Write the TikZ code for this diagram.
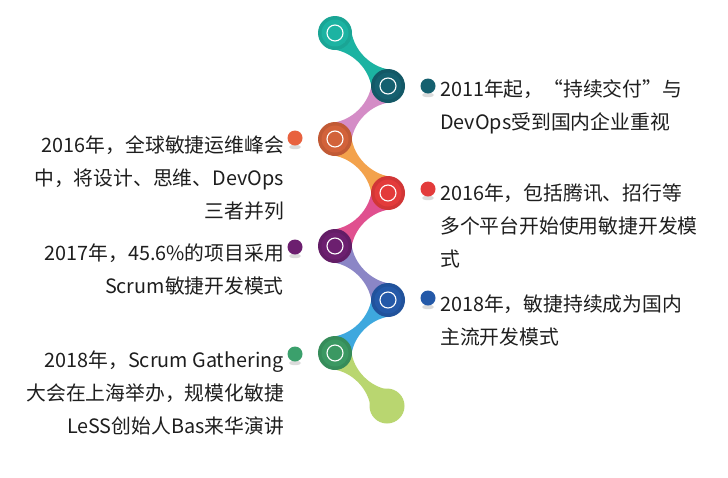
\documentclass[tikz,border=0pt]{standalone}
\usepackage{fontspec}
\setmainfont{Noto Sans CJK SC}
\usetikzlibrary{calc,backgrounds}
\definecolor{cteal}{HTML}{1CB3A2}
\definecolor{cdteal}{HTML}{15606F}
\definecolor{corange}{HTML}{D2623A}
\definecolor{cred}{HTML}{E33B3B}
\definecolor{cpurple}{HTML}{6C1F6F}
\definecolor{cblue}{HTML}{2459A8}
\definecolor{cgreen}{HTML}{3B9862}
\definecolor{clime}{HTML}{B9D670}
\definecolor{slilac}{HTML}{D48CC6}
\definecolor{sorange}{HTML}{F3A24C}
\definecolor{spink}{HTML}{E0508F}
\definecolor{slav}{HTML}{8B86C6}
\definecolor{sblue}{HTML}{3EA8DE}
\definecolor{dorange}{HTML}{E8623F}
\definecolor{dgreen}{HTML}{3BA06C}
\definecolor{txtc}{HTML}{1E1E1E}
\tikzset{
  ball/.style={circle, inner sep=0pt, minimum size=34pt, fill=#1!92!black},
  dotnode/.style={circle, inner sep=0pt, minimum size=15pt, fill=#1},
  txt/.style={font=\fontsize{19.8}{33}\selectfont, inner sep=0pt, text=txtc},
}
\newcommand\stemshape[4]{%
  \fill[#4] ($(#1)+(#3+52:16.5)$) .. controls ($(#1)!0.5!(#2)+(#3+90:1)+(#3:-12)$) and ($(#1)!0.5!(#2)+(#3+90:1)+(#3:12)$) .. ($(#2)+(#3+128:16.5)$) -- ($(#2)+(#3-128:16.5)$) .. controls ($(#1)!0.5!(#2)+(#3-90:1)+(#3:12)$) and ($(#1)!0.5!(#2)+(#3-90:1)+(#3:-12)$) .. ($(#1)+(#3-52:16.5)$) -- cycle;}
\newcommand\ballinner[2]{%
  \fill[#2] (#1) circle (13.5);
  \draw[white, line width=1.1pt] (#1) circle (8);}
\newcommand\dotshadow[1]{\fill[black!14] ($(#1)+(0,-9)$) ellipse (6 and 2.2);}
\begin{document}
\begin{tikzpicture}[x=1pt,y=1pt]
\useasboundingbox (0,0) rectangle (728,-477);
% circles
\node[ball=cteal] (c1) at (335,-33) {};
\node[ball=cdteal] (c2) at (388,-86) {};
\node[ball=corange] (c3) at (335,-139) {};
\node[ball=cred] (c4) at (388,-193) {};
\node[ball=cpurple] (c5) at (335,-246) {};
\node[ball=cblue] (c6) at (388,-300) {};
\node[ball=cgreen] (c7) at (335,-353) {};
\node[circle, inner sep=0pt, minimum size=35pt, fill=clime] (c8) at (387,-406) {};
\ballinner{c1}{cteal}
\ballinner{c2}{cdteal}
\ballinner{c3}{corange}
\ballinner{c4}{cred}
\ballinner{c5}{cpurple}
\ballinner{c6}{cblue}
\ballinner{c7}{cgreen}
\begin{pgfonlayer}{background}
\fill[white] (0,0) rectangle (728,-477);
\stemshape{c1}{c2}{-45}{cteal}
\stemshape{c2}{c3}{-135}{slilac}
\stemshape{c3}{c4}{-45}{sorange}
\stemshape{c4}{c5}{-135}{spink}
\stemshape{c5}{c6}{-45}{slav}
\stemshape{c6}{c7}{-135}{sblue}
\stemshape{c7}{c8}{-45}{clime}
\end{pgfonlayer}
% dots
\coordinate (p1) at (428,-86);
\coordinate (p2) at (428,-189);
\coordinate (p3) at (428,-298);
\coordinate (p4) at (295,-138);
\coordinate (p5) at (295,-247);
\coordinate (p6) at (295,-354);
\dotshadow{p1}\dotshadow{p2}\dotshadow{p3}\dotshadow{p4}\dotshadow{p5}\dotshadow{p6}
\node[dotnode=cdteal] (d1) at (p1) {};
\node[dotnode=cred] (d2) at (p2) {};
\node[dotnode=cblue] (d3) at (p3) {};
\node[dotnode=dorange] (d4) at (p4) {};
\node[dotnode=cpurple] (d5) at (p5) {};
\node[dotnode=dgreen] (d6) at (p6) {};
% texts (anchor = baseline of last line)
\node[txt, anchor=base west, align=left] (t1) at (440,-129) {2011年起，“持续交付”与\\DevOps受到国内企业重视};
\node[txt, anchor=base west, align=left] (t2) at (440,-266) {2016年，包括腾讯、招行等\\多个平台开始使用敏捷开发模\\式};
\node[txt, anchor=base west, align=left] (t3) at (440,-344) {2018年，敏捷持续成为国内\\主流开发模式};
\node[txt, anchor=base east, align=right] (t4) at (284,-218) {2016年，全球敏捷运维峰会\\中，将设计、思维、DevOps\\三者并列};
\node[txt, anchor=base east, align=right] (t5) at (284,-293) {2017年，45.6\%的项目采用\\Scrum敏捷开发模式};
\node[txt, anchor=base east, align=right] (t6) at (284,-433) {2018年，Scrum Gathering\\大会在上海举办，规模化敏捷\\LeSS创始人Bas来华演讲};
\end{tikzpicture}
\end{document}
